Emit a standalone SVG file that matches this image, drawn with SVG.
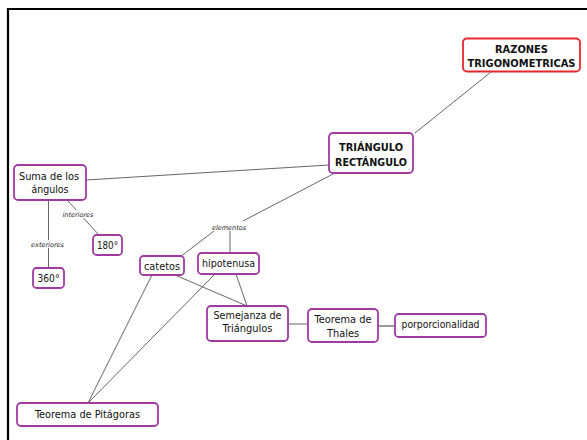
<svg xmlns="http://www.w3.org/2000/svg" width="587" height="440" viewBox="0 0 587 440">
  <style>
    .node rect { fill: #ffffff; stroke: #a03aa3; stroke-width: 1.8; }
    .node.root rect { stroke: #e8262a; }
    .node text { font-family: "DejaVu Sans Condensed", "DejaVu Sans", Verdana, sans-serif; font-size: 10.4px; fill: #111; text-anchor: middle; }
    .node.title text { font-family: "DejaVu Sans", Verdana, sans-serif; font-weight: bold; font-size: 9.9px; }
    .link { stroke: #555; stroke-width: 0.9; fill: none; }
    .link.soft { stroke: #9a9a9a; stroke-width: 2; }
    .lbl-bg { fill: #ffffff; }
    .lbl { font-family: "DejaVu Sans", Verdana, sans-serif; font-size: 6.5px; font-style: italic; fill: #222; text-anchor: middle; }
  </style>

  <rect x="0" y="0" width="587" height="440" fill="#ffffff"/>
  <!-- frame -->
  <path d="M8 440 V9 H587" fill="none" stroke="#000" stroke-width="2.2"/>

  <g id="connectors">
    <line class="link" x1="415" y1="133" x2="491" y2="72"/>
    <line class="link" x1="86" y1="180" x2="329" y2="165"/>
    <line class="link" x1="335" y1="173" x2="243" y2="221"/>
    <line class="link" x1="214" y1="231" x2="180" y2="257"/>
    <line class="link" x1="230" y1="231" x2="230" y2="253"/>
    <line class="link" x1="68" y1="201" x2="99" y2="235"/>
    <line class="link" x1="48.5" y1="200" x2="48.5" y2="268"/>
    <line class="link" x1="152" y1="275" x2="88" y2="403"/>
    <line class="link" x1="215" y1="274" x2="88" y2="403"/>
    <line class="link" x1="175" y1="275" x2="247" y2="306"/>
    <line class="link" x1="236" y1="274" x2="247" y2="306"/>
    <line class="link" x1="288" y1="324" x2="308" y2="324"/>
    <line class="link soft" x1="378" y1="326" x2="395" y2="326"/>

    <!-- link labels -->
    <rect class="lbl-bg" x="63" y="210" width="31" height="8"/>
    <text class="lbl" x="78" y="216.5">interiores</text>
    <rect class="lbl-bg" x="31" y="240" width="33" height="8"/>
    <text class="lbl" x="47.5" y="246.5">exteriores</text>
    <rect class="lbl-bg" x="211" y="223" width="36" height="8"/>
    <text class="lbl" x="229" y="229.5">elementos</text>
  </g>

  <g id="razones" class="node title root">
    <rect x="463" y="38.5" width="117" height="33" rx="4"/>
    <text x="521.5" y="52.5" textLength="53" lengthAdjust="spacingAndGlyphs">RAZONES</text>
    <text x="521.5" y="66.5" textLength="108" lengthAdjust="spacingAndGlyphs">TRIGONOMETRICAS</text>
  </g>

  <g id="triangulo" class="node title">
    <rect x="329" y="133" width="84" height="40" rx="4"/>
    <text x="371" y="150.5" textLength="64" lengthAdjust="spacingAndGlyphs">TRIÁNGULO</text>
    <text x="371" y="165.5" textLength="72" lengthAdjust="spacingAndGlyphs">RECTÁNGULO</text>
  </g>

  <g id="suma" class="node">
    <rect x="14" y="165" width="72" height="35" rx="4"/>
    <text x="49" y="179.5" textLength="60" lengthAdjust="spacingAndGlyphs">Suma de los</text>
    <text x="50" y="192.5" textLength="37" lengthAdjust="spacingAndGlyphs">ángulos</text>
  </g>

  <g id="n180" class="node">
    <rect x="93" y="235" width="29" height="20" rx="3.5"/>
    <text x="107.5" y="249" textLength="21" lengthAdjust="spacingAndGlyphs">180°</text>
  </g>

  <g id="n360" class="node">
    <rect x="33" y="268" width="31" height="20" rx="3.5"/>
    <text x="48.5" y="282" textLength="22" lengthAdjust="spacingAndGlyphs">360°</text>
  </g>

  <g id="catetos" class="node">
    <rect x="140" y="256" width="44" height="19" rx="3.5"/>
    <text x="162" y="269.5" textLength="36" lengthAdjust="spacingAndGlyphs">catetos</text>
  </g>

  <g id="hipotenusa" class="node">
    <rect x="198" y="253" width="61" height="21" rx="3.5"/>
    <text x="228.5" y="266.5" textLength="53" lengthAdjust="spacingAndGlyphs">hipotenusa</text>
  </g>

  <g id="semejanza" class="node">
    <rect x="207" y="306" width="81" height="35" rx="4"/>
    <text x="247.5" y="318.5" textLength="68" lengthAdjust="spacingAndGlyphs">Semejanza de</text>
    <text x="247.5" y="331.5" textLength="50" lengthAdjust="spacingAndGlyphs">Triángulos</text>
  </g>

  <g id="thales" class="node">
    <rect x="308" y="309" width="70" height="33" rx="4"/>
    <text x="343" y="322.5" textLength="57" lengthAdjust="spacingAndGlyphs">Teorema de</text>
    <text x="343" y="336.5" textLength="32" lengthAdjust="spacingAndGlyphs">Thales</text>
  </g>

  <g id="proporcionalidad" class="node">
    <rect x="395" y="314" width="91" height="23" rx="3.5"/>
    <text x="440.5" y="327.5" textLength="78" lengthAdjust="spacingAndGlyphs">porporcionalidad</text>
  </g>

  <g id="pitagoras" class="node">
    <rect x="17" y="403" width="141" height="23" rx="4"/>
    <text x="87.5" y="417.5" textLength="105" lengthAdjust="spacingAndGlyphs">Teorema de Pitágoras</text>
  </g>
</svg>
